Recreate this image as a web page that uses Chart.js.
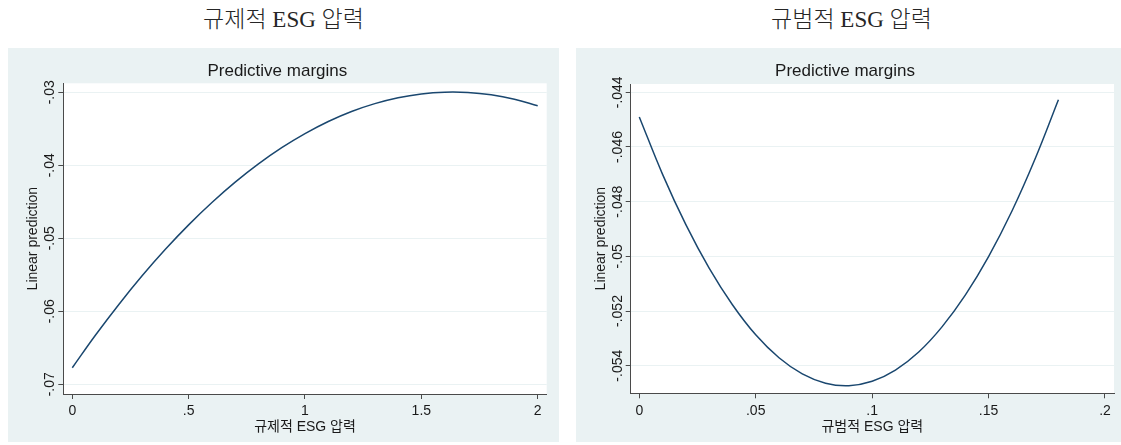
<!DOCTYPE html>
<html lang="ko">
<head>
<meta charset="utf-8">
<title>규제적·규범적 ESG 압력 — Predictive margins</title>
<script src="https://cdn.jsdelivr.net/npm/chart.js@4.4.1/dist/chart.umd.min.js"></script>
<style>
  html, body { margin: 0; padding: 0; background: #ffffff; overflow: hidden; width: 1121px; height: 445px; }
  .heading {
    position: absolute; top: 5px; height: 30px; line-height: 30px;
    font-family: "Liberation Serif", "DejaVu Serif", "Noto Sans CJK KR", serif;
    font-size: 23px; font-weight: 300; color: #262626; text-align: center; white-space: nowrap;
  }
  canvas { position: absolute; top: 48px; }
</style>
</head>
<body>
<div class="heading" style="left:8px; width:551px;">규제적 ESG 압력</div>
<div class="heading" style="left:576px; width:551px;">규범적 ESG 압력</div>
<canvas id="regChart" width="551" height="394" style="left:8px;"></canvas>
<canvas id="normChart" width="551" height="394" style="left:576px;"></canvas>
<script>
// Regulatory ESG pressure: predicted margins
const regX = [0, 0.1, 0.2, 0.3, 0.4, 0.5, 0.6, 0.7, 0.8, 0.9, 1.0,
              1.1, 1.2, 1.3, 1.4, 1.5, 1.6, 1.7, 1.8, 1.9, 2.0];
const regY = [-0.06773, -0.06325, -0.05906, -0.05514, -0.05151, -0.04816, -0.04510,
              -0.04231, -0.03981, -0.03759, -0.03566, -0.03400, -0.03263, -0.03155,
              -0.03074, -0.03022, -0.02998, -0.03002, -0.03034, -0.03095, -0.03184];
const regXTicks = [0, 0.5, 1, 1.5, 2];
const regXLabels = ['0', '.5', '1', '1.5', '2'];
const regYTicks = [-0.07, -0.06, -0.05, -0.04, -0.03];
const regYLabels = ['-.07', '-.06', '-.05', '-.04', '-.03'];

// Normative ESG pressure: predicted margins
const normX = [0, 0.01, 0.02, 0.03, 0.04, 0.05, 0.06, 0.07, 0.08, 0.09,
               0.10, 0.11, 0.12, 0.13, 0.14, 0.15, 0.16, 0.17, 0.18];
const normY = [-0.04490, -0.04700, -0.04884, -0.05043, -0.05177, -0.05287, -0.05371,
               -0.05430, -0.05464, -0.05473, -0.05457, -0.05416, -0.05350, -0.05258,
               -0.05142, -0.05001, -0.04835, -0.04643, -0.04427];
const normXTicks = [0, 0.05, 0.1, 0.15, 0.2];
const normXLabels = ['0', '.05', '.1', '.15', '.2'];
const normYTicks = [-0.054, -0.052, -0.05, -0.048, -0.046, -0.044];
const normYLabels = ['-.054', '-.052', '-.05', '-.048', '-.046', '-.044'];

const SANS = '"Liberation Sans", Arial, "Noto Sans CJK KR", sans-serif';
const INK = '#1a1a1a';
const AXIS = '#4a4a4a';
const PANEL = '#eaf2f3';
const LINE = '#1a476f';

// Panel background and white plot region
const panelBackground = {
  id: 'panelBackground',
  beforeDraw(chart) {
    const { ctx, chartArea: a } = chart;
    ctx.save();
    ctx.fillStyle = PANEL;
    ctx.fillRect(0, 0, chart.width, chart.height);
    ctx.fillStyle = '#ffffff';
    ctx.fillRect(a.left, a.top, a.right - a.left, a.bottom - a.top);
    ctx.restore();
  }
};

// Vertical-axis labels written along the axis, centred on each tick
const rotatedYLabels = {
  id: 'rotatedYLabels',
  afterDraw(chart, args, opts) {
    const s = chart.scales.y;
    const ctx = chart.ctx;
    ctx.save();
    ctx.font = '14px ' + SANS;
    ctx.fillStyle = INK;
    ctx.textAlign = 'center';
    ctx.textBaseline = 'middle';
    s.ticks.forEach((t, i) => {
      const y = s.getPixelForValue(t.value);
      ctx.save();
      ctx.translate(chart.chartArea.left - opts.offset, y);
      ctx.rotate(-Math.PI / 2);
      ctx.fillText(opts.labels[i], 0, 0);
      ctx.restore();
    });
    ctx.restore();
  }
};

function marginsChart(id, cfg) {
  const points = cfg.xs.map((x, i) => ({ x: x, y: cfg.ys[i] }));
  return new Chart(document.getElementById(id), {
    type: 'line',
    data: {
      datasets: [{
        data: points,
        borderColor: LINE,
        borderWidth: 1.5,
        pointRadius: 0,
        tension: 0.4,
        fill: false
      }]
    },
    plugins: [panelBackground, rotatedYLabels],
    options: {
      responsive: false,
      animation: false,
      events: [],
      layout: { padding: { left: 0, top: 0, right: cfg.padRight, bottom: 0 } },
      plugins: {
        legend: { display: false },
        tooltip: { enabled: false },
        title: {
          display: true,
          text: 'Predictive margins',
          color: INK,
          font: { family: SANS, size: 17, weight: 'normal', lineHeight: 1.2 },
          padding: { top: 12.8, bottom: cfg.titleGap }
        },
        rotatedYLabels: { labels: cfg.yLabels, offset: 13 }
      },
      scales: {
        x: {
          type: 'linear',
          min: cfg.xMin,
          max: cfg.xMax,
          afterBuildTicks: (s) => { s.ticks = cfg.xTicks.map(v => ({ value: v })); },
          afterFit: (s) => { s.height = cfg.xHeight; },
          ticks: {
            color: INK,
            font: { family: SANS, size: 14 },
            padding: 4,
            maxRotation: 0,
            autoSkip: false,
            callback: (v, i) => cfg.xLabels[i]
          },
          grid: { drawOnChartArea: false, drawTicks: true, tickLength: 5, tickColor: AXIS, tickWidth: 1 },
          border: { display: true, color: AXIS, width: 1 },
          title: {
            display: true,
            text: cfg.xTitle,
            color: INK,
            font: { family: SANS, size: 14, lineHeight: 1.2 },
            padding: { top: 0, bottom: 6.6 }
          }
        },
        y: {
          type: 'linear',
          min: cfg.yMin,
          max: cfg.yMax,
          afterBuildTicks: (s) => { s.ticks = cfg.yTicks.map(v => ({ value: v })); },
          afterFit: (s) => { s.width = cfg.yWidth; },
          ticks: { display: false },
          grid: { color: PANEL, lineWidth: 1, drawTicks: true, tickLength: 5, tickColor: AXIS, tickWidth: 1 },
          border: { display: true, color: AXIS, width: 1 },
          title: {
            display: true,
            text: 'Linear prediction',
            color: INK,
            font: { family: SANS, size: 14, lineHeight: 1.2 },
            padding: { top: 16.6, bottom: 0 }
          }
        }
      }
    }
  });
}

marginsChart('regChart', {
  xs: regX, ys: regY,
  xTicks: regXTicks, xLabels: regXLabels,
  yLabels: regYLabels, yTicks: regYTicks,
  xMin: -0.0387, xMax: 2.0387,
  yMin: -0.07133, yMax: -0.02877,
  xTitle: '규제적 ESG 압력',
  padRight: 12.3, titleGap: 2.1, yWidth: 55.3, xHeight: 48
});

marginsChart('normChart', {
  xs: normX, ys: normY,
  xTicks: normXTicks, xLabels: normXLabels,
  yLabels: normYLabels, yTicks: normYTicks,
  xMin: -0.00369, xMax: 0.20387,
  yMin: -0.055009, yMax: -0.043696,
  xTitle: '규범적 ESG 압력',
  padRight: 13, titleGap: 2.8, yWidth: 54.7, xHeight: 48.7
});
</script>
</body>
</html>
